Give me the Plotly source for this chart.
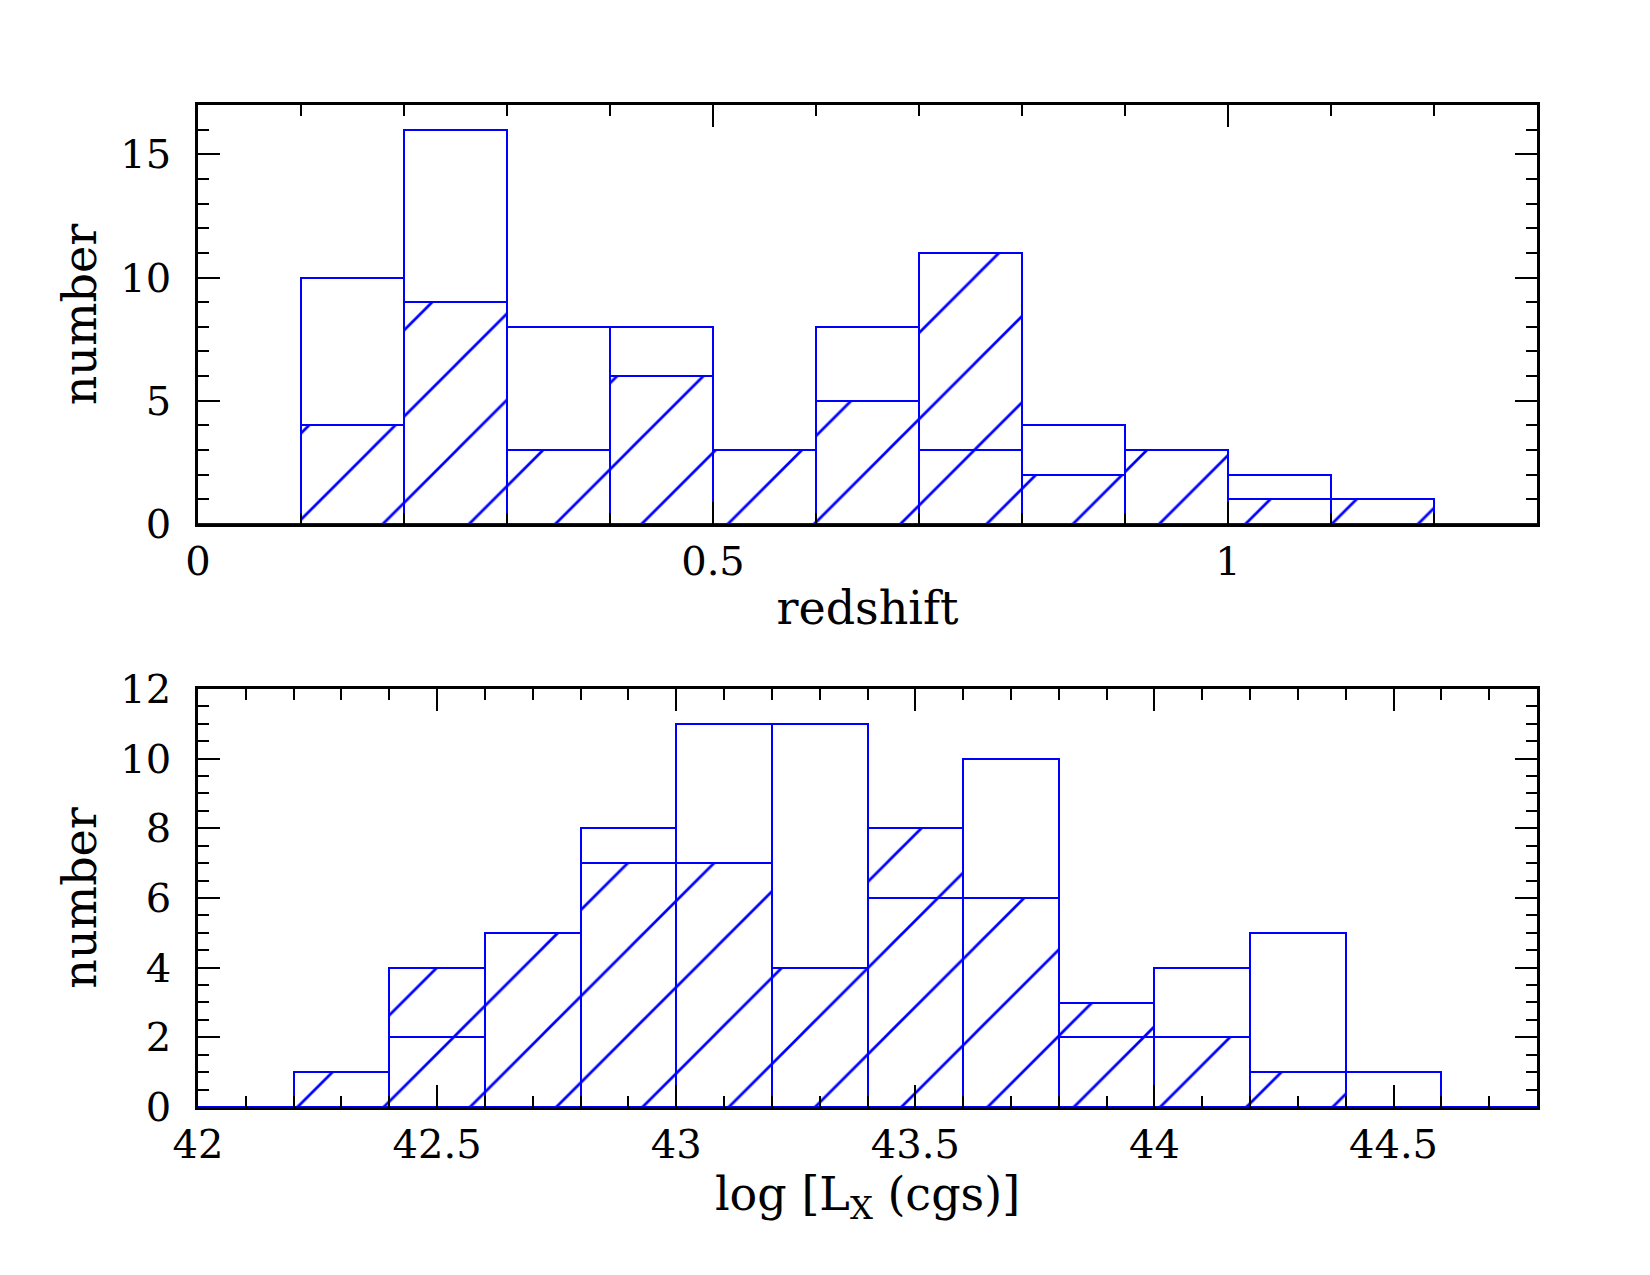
import plotly.graph_objects as go

# ---- data ----
z_left = [0.0, 0.1, 0.2, 0.3, 0.4, 0.5, 0.6, 0.7, 0.8, 0.9, 1.0, 1.1, 1.2]
z_open = [0, 10, 16, 8, 8, 3, 8, 3, 4, 3, 2, 1, 0]
z_hatch = [0, 4, 9, 3, 6, 3, 5, 11, 2, 3, 1, 1, 0]
z_width = 0.1

lx_left = [42.0, 42.2, 42.4, 42.6, 42.8, 43.0, 43.2, 43.4, 43.6, 43.8, 44.0, 44.2, 44.4, 44.6]
lx_open = [0, 1, 2, 5, 8, 11, 11, 6, 10, 2, 4, 5, 1, 0]
lx_hatch = [0, 1, 4, 5, 7, 7, 4, 8, 6, 3, 2, 1, 0, 0]
lx_width = 0.2

BLUE = "rgb(0,0,255)"
FONT = "DejaVu Serif"

fig = go.Figure()


def add_hist(left, counts, width, hatch, xa, ya):
    pattern = dict(shape="/", size=61, solidity=0.045, fgcolor=BLUE,
                   bgcolor="rgba(0,0,0,0)", fillmode="replace") if hatch else dict(shape="")
    fig.add_trace(go.Bar(
        x=left, y=counts, width=[width] * len(left), offset=0,
        marker=dict(color="rgba(0,0,0,0)", line=dict(color=BLUE, width=2), pattern=pattern),
        xaxis=xa, yaxis=ya, showlegend=False, hoverinfo="skip"))


add_hist(z_left, z_hatch, z_width, True, "x", "y")
add_hist(z_left, z_open, z_width, False, "x", "y")
add_hist(lx_left, lx_hatch, lx_width, True, "x2", "y2")
add_hist(lx_left, lx_open, lx_width, False, "x2", "y2")

axis_common = dict(
    showline=True, linecolor="black", linewidth=2.5, mirror="allticks",
    ticks="inside", ticklen=22, tickwidth=2, tickcolor="black",
    showgrid=False, zeroline=False, automargin=False,
    tickfont=dict(family=FONT, size=40, color="black"),
    title_font=dict(family=FONT, size=46, color="black"),
)
minor_common = dict(ticklen=11, tickwidth=2, tickcolor="black", ticks="inside")

fig.update_layout(
    width=1650, height=1275,
    paper_bgcolor="white", plot_bgcolor="white",
    margin=dict(l=190, r=121, t=97, b=176),
    barmode="overlay", bargap=0,
    xaxis=dict(axis_common, domain=[0, 1], range=[0, 1.3], dtick=0.5, tick0=0,
               minor=dict(minor_common, dtick=0.1),
               ticklabelstandoff=0, title=dict(text="redshift", standoff=10), anchor="y"),
    yaxis=dict(axis_common, domain=[0.5818, 1], range=[0, 17], dtick=5, tick0=0,
               minor=dict(minor_common, dtick=1),
               ticklabelstandoff=16, title=dict(text="number", standoff=10), anchor="x"),
    xaxis2=dict(axis_common, domain=[0, 1], range=[42, 44.8], dtick=0.5, tick0=42,
                minor=dict(minor_common, dtick=0.1),
                ticklabelstandoff=0, title=dict(text="log [L<sub>X</sub> (cgs)]", standoff=9), anchor="y2"),
    yaxis2=dict(axis_common, domain=[0, 0.4172], range=[0, 12], dtick=2, tick0=0,
                minor=dict(minor_common, dtick=0.5),
                ticklabelstandoff=16, title=dict(text="number", standoff=10), anchor="x2"),
)

fig.write_html("out.html")
